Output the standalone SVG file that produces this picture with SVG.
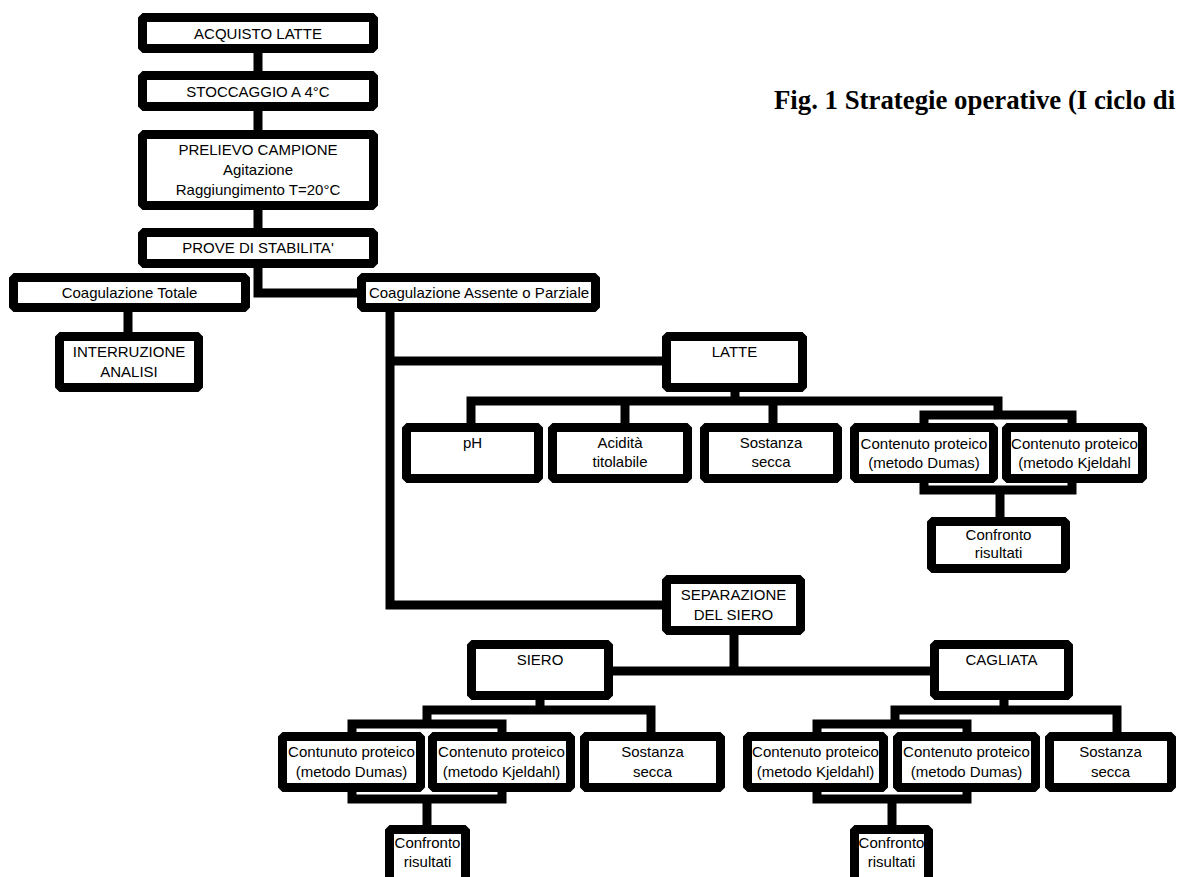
<svg xmlns="http://www.w3.org/2000/svg" width="1177" height="877" viewBox="0 0 1177 877">
<style>
.b{fill:#fff;stroke:#000;stroke-width:9;stroke-linejoin:bevel}
.t{font-family:"Liberation Sans",Arial,sans-serif;font-size:15px;fill:#000;text-anchor:middle}
.c{fill:none;stroke:#000;stroke-width:9;stroke-linejoin:miter;stroke-linecap:butt}
.ti{font-family:"Liberation Serif","Times New Roman",serif;font-size:26.8px;font-weight:bold;fill:#000}
</style>
<rect width="1177" height="877" fill="#fff"/>
<g id="connectors">
<path class="c" d="M258 53V71M258 111V130M258 210V228M258 268V297.5M253.5 293H357M128 312V332"/>
<path class="c" d="M390 312V605H662M390 361H662"/>
<path class="c" d="M735 392V401M471 423V401H998V415M625 401V423M773 401V423M924 423V415H1072V423"/>
<path class="c" d="M924 483V490H1072V483M1000 490V517"/>
<path class="c" d="M734 635V671M613 671H930"/>
<path class="c" d="M540 700V710M651 732V710H427V724M352 732V724H502V732"/>
<path class="c" d="M352 792V799H502V792M427 799V825"/>
<path class="c" d="M1004 700V710M1117 732V710H895V724M817 732V724H967V732"/>
<path class="c" d="M817 792V799H967V792M892 799V825"/>
</g>
<g id="n1"><rect class="b" x="142.5" y="17.5" width="231" height="31"/><text class="t" x="258" y="39">ACQUISTO LATTE</text></g>
<g id="n2"><rect class="b" x="142.5" y="75.5" width="231" height="31"/><text class="t" x="258" y="97">STOCCAGGIO A 4°C</text></g>
<g id="n3"><rect class="b" x="142.5" y="134.5" width="231" height="71"/><text class="t" x="258" y="155">PRELIEVO CAMPIONE</text><text class="t" x="258" y="175">Agitazione</text><text class="t" x="258" y="195">Raggiungimento T=20°C</text></g>
<g id="n4"><rect class="b" x="142.5" y="232.5" width="231" height="31"/><text class="t" x="258" y="253">PROVE DI STABILITA'</text></g>
<g id="n5"><rect class="b" x="13.5" y="277.5" width="232" height="30"/><text class="t" x="129.5" y="298">Coagulazione Totale</text></g>
<g id="n6"><rect class="b" x="361.5" y="277.5" width="234" height="30"/><text class="t" x="479" y="298">Coagulazione Assente o Parziale</text></g>
<g id="n7"><rect class="b" x="59.5" y="336.5" width="139" height="51"/><text class="t" x="129" y="357">INTERRUZIONE</text><text class="t" x="129" y="377">ANALISI</text></g>
<g id="n8"><rect class="b" x="666.5" y="336.5" width="136" height="51"/><text class="t" x="734.5" y="357">LATTE</text></g>
<g id="n9"><rect class="b" x="406.5" y="427.5" width="132" height="51"/><text class="t" x="472.5" y="448">pH</text></g>
<g id="n10"><rect class="b" x="552.5" y="427.5" width="135" height="51"/><text class="t" x="620" y="448">Acidità</text><text class="t" x="620" y="467">titolabile</text></g>
<g id="n11"><rect class="b" x="704.5" y="427.5" width="133" height="51"/><text class="t" x="771" y="448">Sostanza</text><text class="t" x="771" y="467">secca</text></g>
<g id="n12"><rect class="b" x="854.5" y="427.5" width="139" height="51"/><text class="t" x="924" y="449">Contenuto proteico</text><text class="t" x="924" y="468">(metodo Dumas)</text></g>
<g id="n13"><rect class="b" x="1006.5" y="427.5" width="136" height="51"/><text class="t" x="1074.5" y="449">Contenuto proteico</text><text class="t" x="1074.5" y="468">(metodo Kjeldahl</text></g>
<g id="n14"><rect class="b" x="931.5" y="521.5" width="134" height="47"/><text class="t" x="998.5" y="540">Confronto</text><text class="t" x="998.5" y="558">risultati</text></g>
<g id="n15"><rect class="b" x="666.5" y="579.5" width="134" height="51"/><text class="t" x="733.5" y="600">SEPARAZIONE</text><text class="t" x="733.5" y="620">DEL SIERO</text></g>
<g id="n16"><rect class="b" x="471.5" y="644.5" width="137" height="51"/><text class="t" x="540" y="665">SIERO</text></g>
<g id="n17"><rect class="b" x="934.5" y="644.5" width="134" height="51"/><text class="t" x="1001.5" y="665">CAGLIATA</text></g>
<g id="n18"><rect class="b" x="282.5" y="736.5" width="138" height="51"/><text class="t" x="351.5" y="757">Contunuto proteico</text><text class="t" x="351.5" y="777">(metodo Dumas)</text></g>
<g id="n19"><rect class="b" x="432.5" y="736.5" width="138" height="51"/><text class="t" x="501.5" y="757">Contenuto proteico</text><text class="t" x="501.5" y="777">(metodo Kjeldahl)</text></g>
<g id="n20"><rect class="b" x="584.5" y="736.5" width="136" height="51"/><text class="t" x="652.5" y="757">Sostanza</text><text class="t" x="652.5" y="777">secca</text></g>
<g id="n21"><rect class="b" x="389.5" y="829.5" width="76" height="60"/><text class="t" x="427.5" y="848">Confronto</text><text class="t" x="427.5" y="867">risultati</text></g>
<g id="n22"><rect class="b" x="747.5" y="736.5" width="136" height="51"/><text class="t" x="815.5" y="757">Contenuto proteico</text><text class="t" x="815.5" y="777">(metodo Kjeldahl)</text></g>
<g id="n23"><rect class="b" x="897.5" y="736.5" width="138" height="51"/><text class="t" x="966.5" y="757">Contenuto proteico</text><text class="t" x="966.5" y="777">(metodo Dumas)</text></g>
<g id="n24"><rect class="b" x="1049.5" y="736.5" width="122" height="51"/><text class="t" x="1110.5" y="757">Sostanza</text><text class="t" x="1110.5" y="777">secca</text></g>
<g id="n25"><rect class="b" x="854.5" y="829.5" width="74" height="60"/><text class="t" x="891.5" y="848">Confronto</text><text class="t" x="891.5" y="867">risultati</text></g>
<text class="ti" x="774" y="109">Fig. 1 Strategie operative (I ciclo di</text>
</svg>
